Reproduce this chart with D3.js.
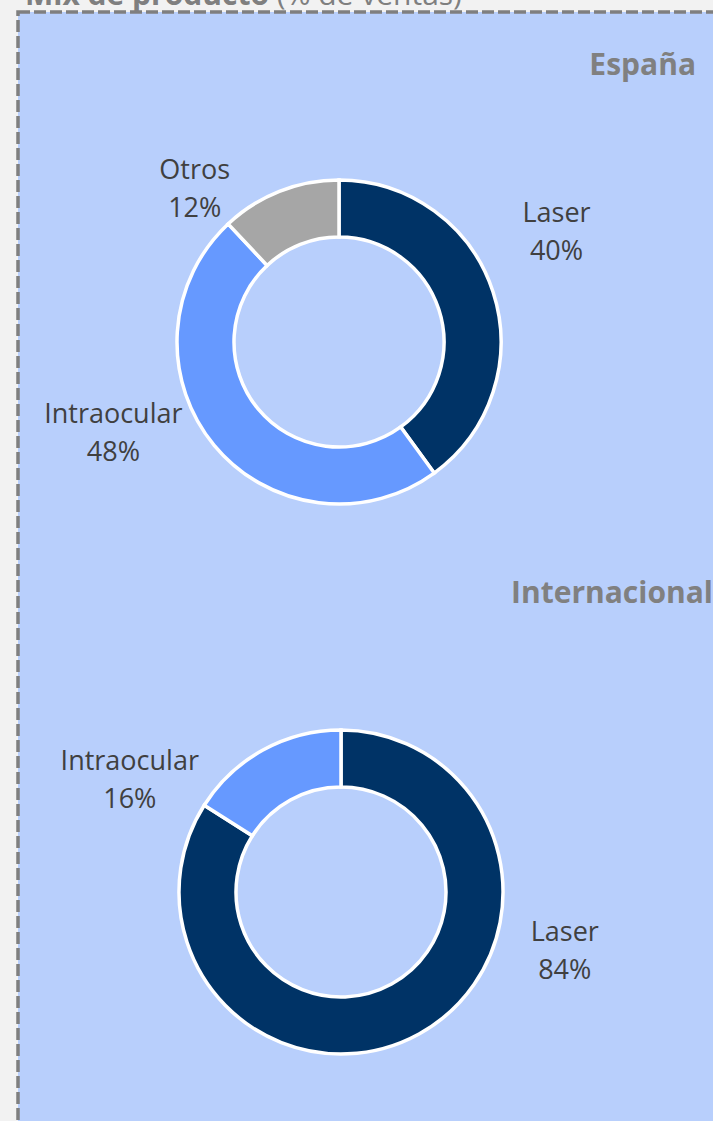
<!DOCTYPE html>
<html>
<head>
<meta charset="utf-8">
<script src="https://cdn.jsdelivr.net/npm/d3@7"></script>
<style>
  body { margin: 0; background: #f2f2f2; }
  svg { display: block; }
</style>
</head>
<body>
<div id="plot"></div>
<script>
// Data
const categories = ["Laser", "Intraocular", "Otros"];
const regions = ["España", "Internacional"];
const spainShare = [40, 48, 12];
const intlShare = [84, 16];

// Label placement (angle in degrees from top, distance from centre)
const spainLabelPos = [[65, 240], [246, 247], [315, 204]];
const intlLabelPos = [[107, 234], [296, 235]];

const width = 713;
const height = 1121;

const colors = d3.scaleOrdinal()
  .domain(categories)
  .range(["#003366", "#6699ff", "#a6a6a6"]);

const svg = d3.select("#plot")
  .append("svg")
  .attr("width", width)
  .attr("height", height)
  .style("font-family", "'Open Sans', sans-serif");

// Panel with dashed border
svg.append("rect")
  .attr("x", 18)
  .attr("y", 12)
  .attr("width", width + 20)
  .attr("height", height + 20)
  .attr("fill", "#b8cffc")
  .attr("stroke", "#7f7f7f")
  .attr("stroke-width", 3.5)
  .attr("stroke-dasharray", "12,4");

// Title (clipped at the top, as in the original)
const title = svg.append("text")
  .attr("x", 25)
  .attr("y", 5)
  .attr("fill", "#7f7f7f")
  .style("font-size", "30px");
title.append("tspan").style("font-weight", "bold").text("Mix de producto");
title.append("tspan").text(" (% de ventas)");

const pie = d3.pie().value(d => d.value).sort(null);
const arc = d3.arc().innerRadius(105).outerRadius(162);

function drawDonut(region, shares, labelPos, cx, cy, headY) {
  const rows = shares.map((v, i) => ({ category: categories[i], value: v }));

  svg.append("text")
    .attr("x", region === "España" ? 696 : 713)
    .attr("y", headY)
    .attr("text-anchor", "end")
    .attr("fill", "#808080")
    .style("font-size", "30px")
    .style("font-weight", "bold")
    .text(region);

  const g = svg.append("g")
    .attr("transform", `translate(${cx}, ${cy})`);

  g.selectAll("path")
    .data(pie(rows))
    .enter()
    .append("path")
    .attr("d", arc)
    .attr("fill", d => colors(d.data.category))
    .attr("stroke", "#ffffff")
    .attr("stroke-width", 3.5);

  const labels = g.selectAll("text.lbl")
    .data(pie(rows))
    .enter()
    .append("text")
    .attr("class", "lbl")
    .attr("text-anchor", "middle")
    .attr("fill", "#404040")
    .style("font-size", "27px")
    .attr("transform", (d, i) => {
      const p = d3.pointRadial(labelPos[i][0] * Math.PI / 180, labelPos[i][1]);
      return `translate(${p[0]}, ${p[1]})`;
    });

  labels.append("tspan")
    .attr("x", 0)
    .attr("y", -19)
    .text(d => d.data.category);

  labels.append("tspan")
    .attr("x", 0)
    .attr("y", 19)
    .text(d => d.data.value + "%");
}

drawDonut(regions[0], spainShare, spainLabelPos, 339, 342, 75);
drawDonut(regions[1], intlShare, intlLabelPos, 341, 892, 603);
</script>
</body>
</html>
